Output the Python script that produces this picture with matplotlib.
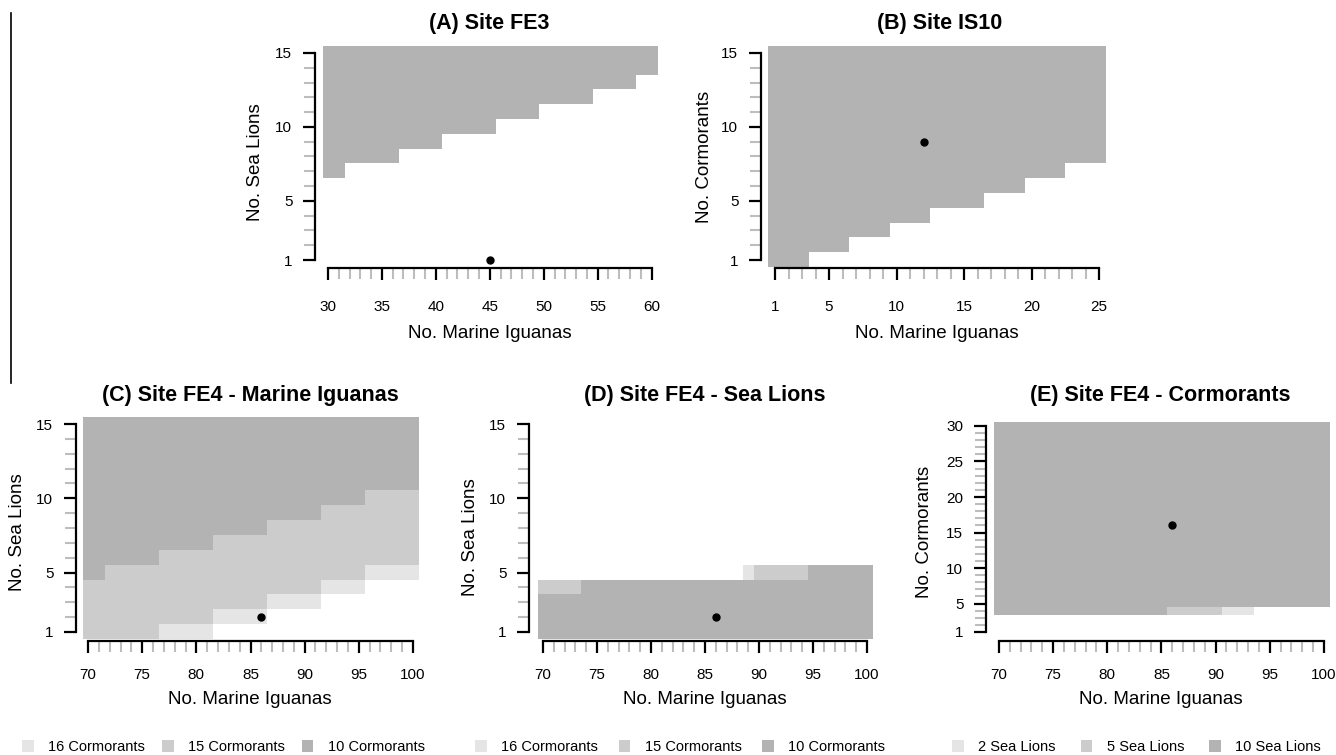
import numpy as np
import matplotlib
matplotlib.use("Agg")
import matplotlib.pyplot as plt
from matplotlib.colors import ListedColormap
from matplotlib.patches import Patch
from matplotlib.lines import Line2D

plt.rcParams['font.family'] = ['Liberation Sans', 'DejaVu Sans']

W, H = 1336, 755

# shades: 1 = light, 2 = medium, 3 = dark
GREYS = ['#e5e5e5', '#cccccc', '#b3b3b3']

# (A) Site FE3 - shaded from this no. of sea lions up, per run of iguana counts
a_iguanas = [30, 60]
a_run_start = [30, 32, 37, 41, 46, 50, 55, 59]
a_min_sealions = [7, 8, 9, 10, 11, 12, 13, 14]
a_obs = [45, 1]

# (B) Site IS10 - shaded from this no. of cormorants up
b_iguanas = [1, 25]
b_run_start = [1, 4, 7, 10, 13, 17, 20, 23]
b_min_cormorants = [1, 2, 3, 4, 5, 6, 7, 8]
b_obs = [12, 9]

# (C) FE4 marine iguanas - first sea lion count of each shade
c_iguanas = [70, 100]
c_run_start = [70, 72, 77, 82, 87, 92, 96]
c_light_from = [1, 1, 1, 2, 3, 4, 5]
c_medium_from = [1, 1, 2, 3, 4, 5, 6]
c_dark_from = [5, 6, 7, 8, 9, 10, 11]
c_obs = [86, 2]

# (D) FE4 sea lions - dark up to d_dark_top, then one cell of d_cap_shade (0 = none)
d_iguanas = [70, 100]
d_run_start = [70, 74, 89, 90, 95]
d_dark_top = [3, 4, 4, 4, 5]
d_cap_shade = [2, 0, 1, 2, 0]
d_obs = [86, 2]

# (E) FE4 cormorants - first cormorant count of each shade
e_iguanas = [70, 100]
e_run_start = [70, 86, 91, 94]
e_light_from = [4, 4, 4, 5]
e_medium_from = [4, 4, 5, 5]
e_dark_from = [4, 5, 5, 5]
e_obs = [86, 16]

legend_cormorants = ['16 Cormorants', '15 Cormorants', '10 Cormorants']
legend_sealions = ['2 Sea Lions', '5 Sea Lions', '10 Sea Lions']


def expand(run_start, values, x_end):
    xs = np.arange(run_start[0], x_end + 1)
    idx = np.searchsorted(run_start, xs, side='right') - 1
    return xs, np.asarray(values)[idx]


def threshold_grid(run_start, froms, x_end, y_max):
    ys = np.arange(1, y_max + 1)
    z = None
    for f in froms:
        xs, col = expand(run_start, f, x_end)
        part = (ys[:, None] >= col[None, :]).astype(int)
        z = part if z is None else z + part
    return xs, ys, z


def draw_grid(ax, xs, ys, z):
    ax.imshow(np.ma.masked_equal(z, 0), cmap=ListedColormap(GREYS), vmin=0.5, vmax=3.5,
              extent=(xs[0] - .5, xs[-1] + .5, ys[0] - .5, ys[-1] + .5),
              origin='lower', aspect='auto', interpolation='nearest', zorder=1)


def add_axes_px(left, top, right, bottom):
    return fig.add_axes([left / W, 1 - bottom / H, (right - left) / W, (bottom - top) / H])


def style(ax, xlim, ylim, xbounds, ybounds, xticks, yticks, xpad):
    ax.set_xlim(xlim)
    ax.set_ylim(ylim)
    for s in ['top', 'right']:
        ax.spines[s].set_visible(False)
    ax.spines['left'].set_bounds(*ybounds)
    ax.spines['bottom'].set_bounds(*xbounds)
    ax.spines['left'].set_linewidth(1.6)
    ax.spines['bottom'].set_linewidth(1.6)
    ax.set_xticks(xticks)
    ax.set_yticks(yticks)
    ax.set_xticks(range(xbounds[0], xbounds[1] + 1), minor=True)
    ax.set_yticks(range(ybounds[0], ybounds[1] + 1), minor=True)
    ax.tick_params(which='major', length=8.8, width=1.6, color='black', labelsize=11)
    ax.tick_params(which='minor', length=8.0, width=1.5, color='#bdbdbd')
    ax.tick_params(axis='x', which='major', pad=xpad)
    ax.tick_params(axis='y', which='major', pad=7.5)
    ax.patch.set_visible(False)


fig = plt.figure(figsize=(W / 100, H / 100), dpi=100)

# ---- (A)
ax = add_axes_px(315, 45.6, 657, 268)
xs, ys, z = threshold_grid(a_run_start, [a_min_sealions], a_iguanas[1], 15)
draw_grid(ax, xs, ys, z * 3)
ax.plot(*a_obs, 'o', color='black', ms=5, zorder=3, clip_on=False)
style(ax, (28.8, 60.5), (0.459, 15.5), a_iguanas, (1, 15),
      range(30, 61, 5), [1, 5, 10, 15], 14.5)

# ---- (B)
ax = add_axes_px(761, 45.6, 1106, 268)
xs, ys, z = threshold_grid(b_run_start, [b_min_cormorants], b_iguanas[1], 15)
draw_grid(ax, xs, ys, z * 3)
ax.plot(*b_obs, 'o', color='black', ms=5, zorder=3)
style(ax, (-0.037, 25.5), (0.459, 15.5), b_iguanas, (1, 15),
      [1, 5, 10, 15, 20, 25], [1, 5, 10, 15], 14.5)

# ---- (C)
ax = add_axes_px(76, 416.6, 418.4, 641)
xs, ys, z = threshold_grid(c_run_start, [c_light_from, c_medium_from, c_dark_from],
                           c_iguanas[1], 15)
draw_grid(ax, xs, ys, z)
ax.plot(*c_obs, 'o', color='black', ms=5, zorder=3)
style(ax, (68.89, 100.5), (0.394, 15.5), c_iguanas, (1, 15),
      range(70, 101, 5), [1, 5, 10, 15], 10.5)

# ---- (D)
ax = add_axes_px(529, 416.6, 872.4, 641)
xs, top = expand(d_run_start, d_dark_top, d_iguanas[1])
_, cap = expand(d_run_start, d_cap_shade, d_iguanas[1])
ys = np.arange(1, 16)
z = np.where(ys[:, None] <= top[None, :], 3, 0)
z = np.where(ys[:, None] == top[None, :] + 1, cap[None, :], z)
draw_grid(ax, xs, ys, z)
ax.plot(*d_obs, 'o', color='black', ms=5, zorder=3)
style(ax, (68.70, 100.5), (0.394, 15.5), d_iguanas, (1, 15),
      range(70, 101, 5), [1, 5, 10, 15], 10.5)

# ---- (E)
ax = add_axes_px(986, 422.4, 1329.4, 641)
xs, ys, z = threshold_grid(e_run_start, [e_light_from, e_medium_from, e_dark_from],
                           e_iguanas[1], 30)
draw_grid(ax, xs, ys, z)
ax.plot(*e_obs, 'o', color='black', ms=5, zorder=3)
style(ax, (68.8, 100.5), (-0.267, 30.5), e_iguanas, (1, 30),
      range(70, 101, 5), [1, 5, 10, 15, 20, 25, 30], 10.5)

# titles and axis labels (pixel positions)
titles = [('(A) Site FE3', 489, 29), ('(B) Site IS10', 940, 29),
          ('(C) Site FE4 - Marine Iguanas', 250, 401),
          ('(D) Site FE4 - Sea Lions', 705, 401),
          ('(E) Site FE4 - Cormorants', 1160, 401)]
for t, x, y in titles:
    fig.text(x / W, 1 - y / H, t, ha='center', va='baseline', fontsize=15.5, fontweight='bold')

xlabels = [(490, 338), (937, 338), (250, 704), (705, 704), (1161, 704)]
for x, y in xlabels:
    fig.text(x / W, 1 - y / H, 'No. Marine Iguanas', ha='center', va='baseline', fontsize=13.5)

ylabels = [('No. Sea Lions', 255, 162), ('No. Cormorants', 704, 157),
           ('No. Sea Lions', 18, 532), ('No. Sea Lions', 470, 537),
           ('No. Cormorants', 925, 532)]
for t, x, y in ylabels:
    fig.text(x / W, 1 - y / H, t, ha='center', va='center', rotation=90, fontsize=13.5)

# legends under the bottom panels
for labels, x0, gap in [(legend_cormorants, 22, 1.15), (legend_cormorants, 475, 1.4),
                        (legend_sealions, 952, 1.7)]:
    handles = [Patch(facecolor=c, edgecolor='none') for c in GREYS]
    fig.legend(handles, labels, loc='center left', bbox_to_anchor=(x0 / W, 1 - 747 / H),
               ncol=3, frameon=False, fontsize=10.5, handlelength=0.8, handleheight=0.8,
               handletextpad=1.0, columnspacing=gap, borderpad=0, borderaxespad=0)

# stray rule at the left edge of the source image
fig.add_artist(Line2D([10.5 / W, 10.5 / W], [1 - 13 / H, 1 - 383 / H], color='black', lw=1.2))

fig.savefig('out.png', dpi=100)
